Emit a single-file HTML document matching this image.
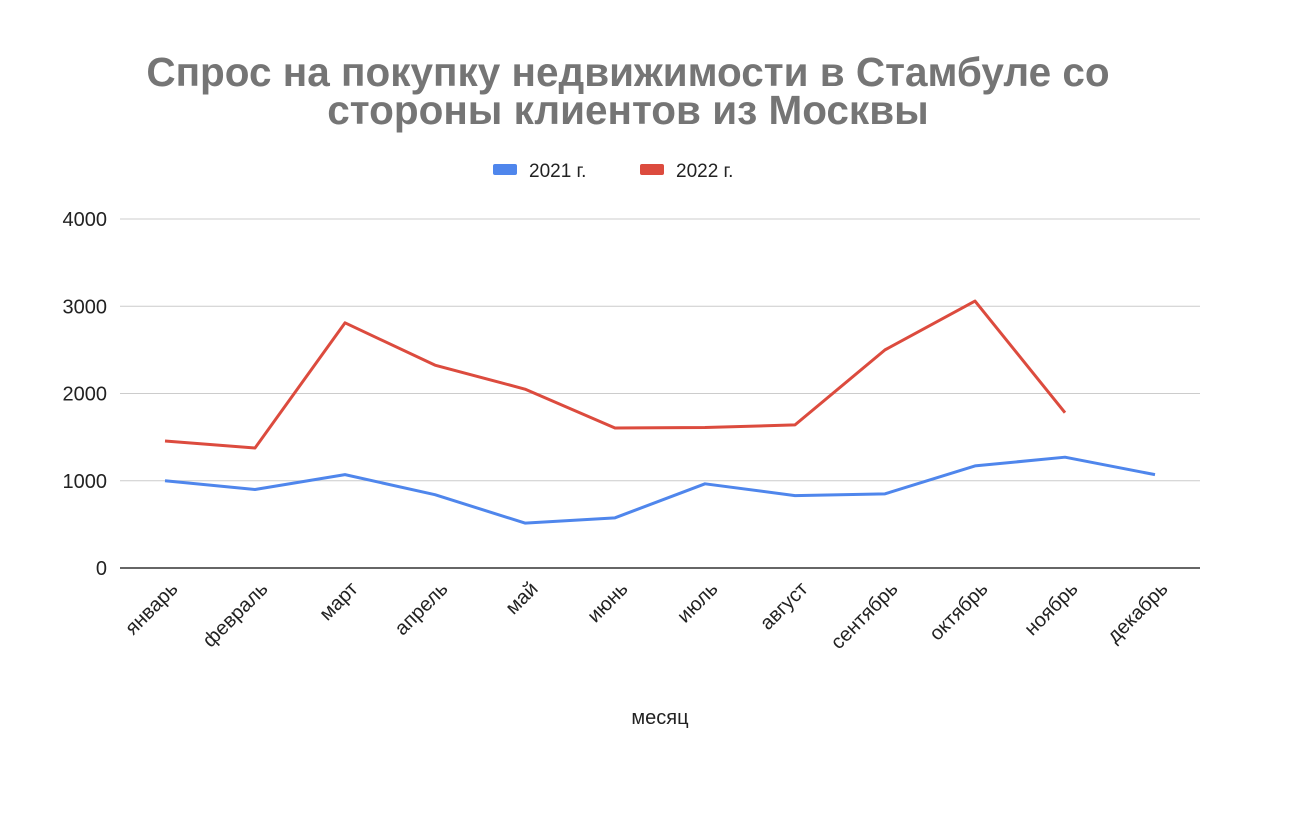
<!DOCTYPE html>
<html><head><meta charset="utf-8"><style>
body{margin:0;background:#fff;width:1312px;height:810px;overflow:hidden;font-family:"Liberation Sans","DejaVu Sans",sans-serif}
</style></head><body>
<svg id="chart" width="1312" height="810">
<text x="628" y="86" text-anchor="middle" font-size="40.5" font-weight="bold" fill="#757575">Спрос на покупку недвижимости в Стамбуле со</text>
<text x="628" y="124" text-anchor="middle" font-size="40.5" font-weight="bold" fill="#757575">стороны клиентов из Москвы</text>
<g>
<rect x="493" y="164" width="24" height="11" rx="2" fill="#4f86ec"/>
<text x="529" y="177" font-size="19" fill="#222">2021 г.</text>
<rect x="640" y="164" width="24" height="11" rx="2" fill="#dc4b3e"/>
<text x="676" y="177" font-size="19" fill="#222">2022 г.</text>
</g>
<g id="grid"></g><g id="series"></g><g id="xlabels"></g>
<text x="660" y="724" text-anchor="middle" font-size="20" fill="#222">месяц</text>
</svg>
<script>
const categories=["январь","февраль","март","апрель","май","июнь","июль","август","сентябрь","октябрь","ноябрь","декабрь"];
const series2021=[1000,900,1070,840,515,575,965,830,850,1170,1270,1070];
const series2022=[1455,1375,2810,2325,2050,1605,1610,1640,2500,3060,1780];
const yTicks=[0,1000,2000,3000,4000];
const NS="http://www.w3.org/2000/svg";
const left=120,right=1200,y0=568,yTop=219,yMax=4000;
const band=(right-left)/categories.length;
const xs=i=>left+band*(i+0.5);
const ys=v=>y0-(v/yMax)*(y0-yTop);
function mk(t,a){const e=document.createElementNS(NS,t);for(const k in a)e.setAttribute(k,a[k]);return e;}
const grid=document.getElementById('grid');
yTicks.forEach(v=>{
 const l=mk('line',{x1:left,x2:right,y1:ys(v),y2:ys(v),stroke:v===0?'#333':'#ccc','stroke-width':v===0?1.5:1});
 
 
 grid.appendChild(l);
 const t=mk('text',{x:107,y:ys(v)+7,'text-anchor':'end','font-size':20,fill:'#222'});
 t.textContent=v;
 
 
 grid.appendChild(t);
});
const xl=document.getElementById('xlabels');
categories.forEach((c,i)=>{
 const x=xs(i)+14,y=590;
 const t=mk('text',{x:x,y:y,'text-anchor':'end','font-size':20,fill:'#222',transform:`rotate(-45 ${x} ${y})`});
 t.textContent=c;
 
 
 xl.appendChild(t);
});
const sg=document.getElementById('series');
[[series2021,'#4f86ec','line-2021'],[series2022,'#dc4b3e','line-2022']].forEach(([d,c,n])=>{
 const p=mk('polyline',{points:d.map((v,i)=>xs(i)+','+ys(v)).join(' '),fill:'none',stroke:c,'stroke-width':3,'stroke-linejoin':'round'});
 
 
 sg.appendChild(p);
});
</script>
</body></html>
